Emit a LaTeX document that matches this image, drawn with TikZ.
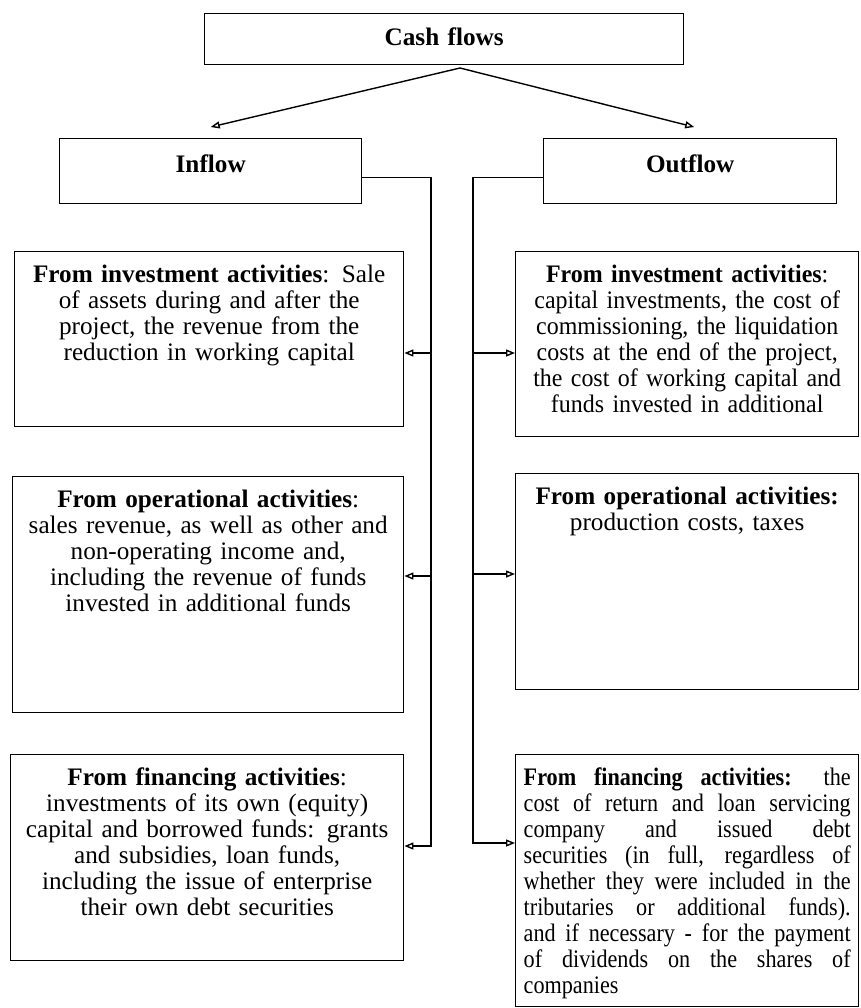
\documentclass[tikz,border=0pt]{standalone}
\usepackage{fontspec}
\setmainfont{Liberation Serif}
\newfontfamily\narrowserif[FakeStretch=0.88]{Liberation Serif}
\newfontfamily\slimserif[FakeStretch=0.95]{Liberation Serif}
\usepackage{tikz}
\usetikzlibrary{arrows.meta}
\tikzset{>={Triangle[open,width=3.5pt,length=4.5pt]}}
\tikzset{flowbox/.style={draw, anchor=north west, inner sep=4pt, align=center,
    text height=11.5pt, font=\fontsize{12.6}{13}\selectfont}}
\hyphenpenalty=10000

\begin{document}
\begin{tikzpicture}[x=0.5pt, y=-0.5pt, line width=0.7pt]

  \newcommand\Lx{431}
  \newcommand\Rx{473}

  \useasboundingbox (0,0) rectangle (861,1008);

  %% top row
  \node[flowbox, text width=231.5pt, text height=12pt, text depth=5.5pt] (cash) at (204,13) {\textbf{Cash flows}};
  \node[flowbox, text width=143pt, text height=13pt, text depth=11.5pt] (inflow) at (59,138) {\textbf{Inflow}};
  \node[flowbox, text width=138.5pt, text height=13pt, text depth=11.5pt] (outflow) at (543,138) {\textbf{Outflow}};

  %% inflow side
  \node[flowbox, text width=186.5pt, text depth=68pt] (invin) at (14,251)
    {\textbf{From investment activities}: Sale\\ of assets during and after the\\ project, the revenue from the\\ reduction in working capital};
  \node[flowbox, text width=187.5pt, text depth=98.5pt] (opin) at (12,476)
    {\textbf{From operational activities}:\\ sales revenue, as well as other and\\ non-operating income and,\\ including the revenue of funds\\ invested in additional funds};
  \node[flowbox, text width=188.5pt, text depth=83.5pt] (finin) at (10,754)
    {\textbf{From financing activities}:\\ investments of its own (equity)\\ capital and borrowed funds: grants\\ and subsidies, loan funds,\\ including the issue of enterprise\\ their own debt securities};

  %% outflow side
  \node[flowbox, text width=163.5pt, text depth=73pt, font=\slimserif\fontsize{12.6}{13}\selectfont] (invout) at (515,251)
    {\textbf{From investment activities}:\\ capital investments, the cost of\\ commissioning, the liquidation\\ costs at the end of the project,\\ the cost of working capital and\\ funds invested in additional};
  \node[flowbox, text width=163.5pt, text depth=88.5pt] (opout) at (515,473)
    {\textbf{From operational activities:}\\ production costs, taxes};
  \node[flowbox, text width=163.5pt, text depth=106.5pt, align=justify, font=\narrowserif\fontsize{12.6}{13}\selectfont] (finout) at (515,754)
    {\textbf{From financing activities:} the\linebreak cost of return and loan servicing\linebreak company and issued debt\linebreak securities (in full, regardless of\linebreak whether they were included in the\linebreak tributaries or additional funds).\linebreak and if necessary - for the payment\linebreak of dividends on the shares of\linebreak companies};

  \coordinate (fork) at (460,68);
  \coordinate (lbus1) at (\Lx,353);
  \coordinate (lbus2) at (\Lx,576);
  \coordinate (lbus3) at (\Lx,846);
  \coordinate (rbus1) at (\Rx,353);
  \coordinate (rbus2) at (\Rx,574);
  \coordinate (rbus3) at (\Rx,843);

  \draw[->] (fork) -- ([yshift=5.5pt]inflow.north); %% cash inflow
  \draw[->] (fork) -- ([xshift=2pt,yshift=5.5pt]outflow.north); %% cash outflow

  \draw[->] ([yshift=-3.25pt]inflow.east) -| (lbus3) -- (lbus3 -| finin.east); %% inflow finin
  \draw[->] (lbus1) -- (lbus1 -| invin.east); %% inflow invin
  \draw[->] (lbus2) -- (lbus2 -| opin.east); %% inflow opin

  \draw[->] ([yshift=-3.25pt]outflow.west) -| (rbus3) -- (rbus3 -| finout.west); %% outflow finout
  \draw[->] (rbus1) -- (rbus1 -| invout.west); %% outflow invout
  \draw[->] (rbus2) -- (rbus2 -| opout.west); %% outflow opout

\end{tikzpicture}
\end{document}
